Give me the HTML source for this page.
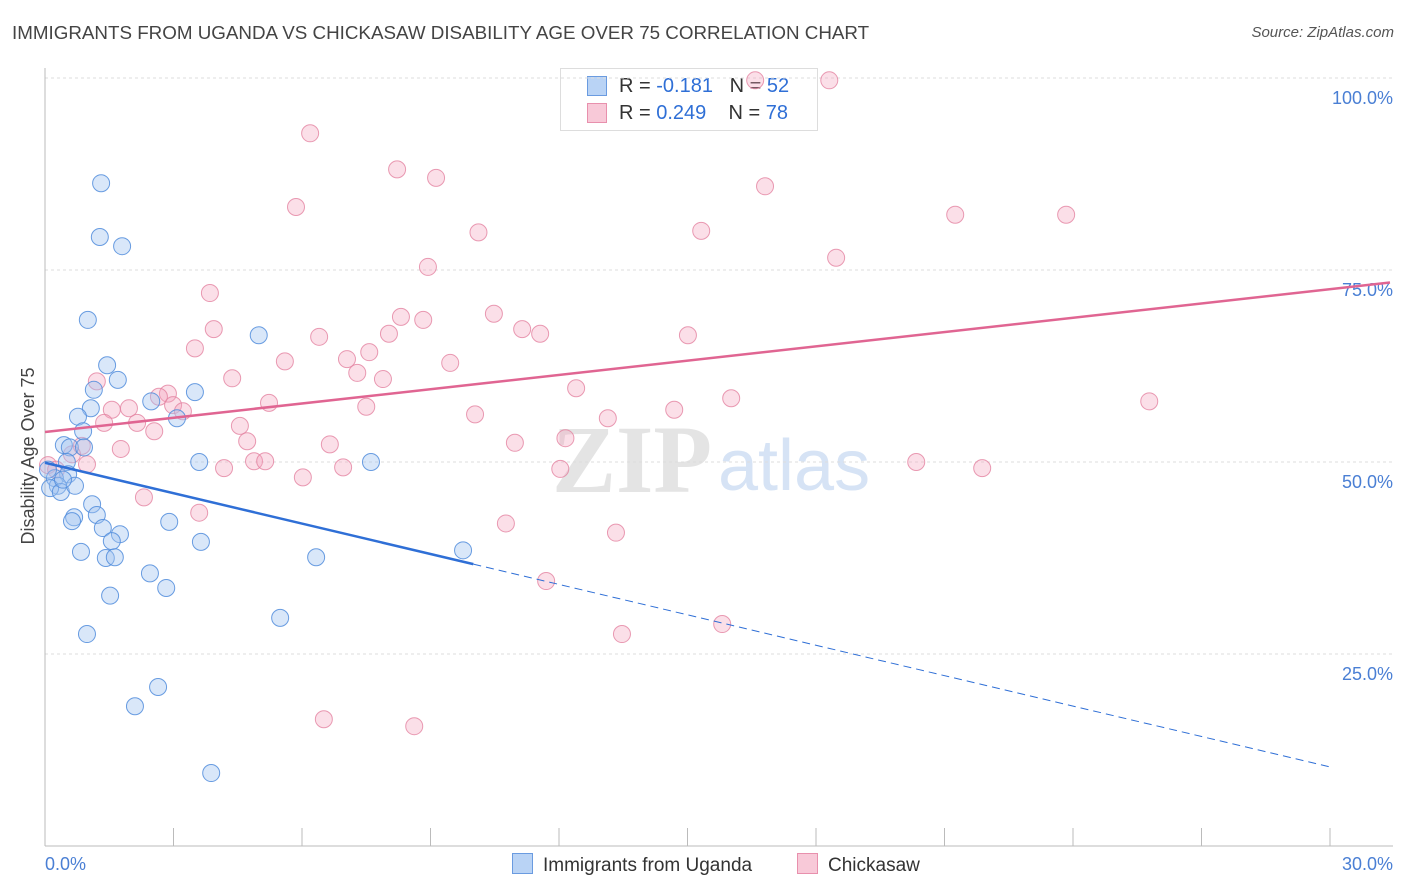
<!DOCTYPE html>
<html><head><meta charset="utf-8"><style>
body{margin:0;background:#fff;font-family:"Liberation Sans",sans-serif;}
#wrap{position:relative;width:1406px;height:892px;overflow:hidden;}
.t{position:absolute;white-space:nowrap;}
</style></head><body>
<div id="wrap">
<div class="t" style="left:12px;top:22px;font-size:18.8px;color:#444;">IMMIGRANTS FROM UGANDA VS CHICKASAW DISABILITY AGE OVER 75 CORRELATION CHART</div>
<div class="t" style="right:12px;top:24px;font-size:15px;color:#555;font-style:italic;">Source: ZipAtlas.com</div>
<div class="t" style="left:560px;top:68px;width:256px;height:61px;border:1px solid #ddd;background:#fff;font-size:20px;color:#333;">
<div style="position:absolute;left:26px;top:7px;width:18px;height:18px;background:#b9d3f5;border:1px solid #6a9be0"></div>
<div style="position:absolute;left:58px;top:6px">R = <span style="color:#2f6fd6">-0.181</span>&nbsp;&nbsp;&nbsp;N = <span style="color:#2f6fd6">52</span></div>
<div style="position:absolute;left:26px;top:34px;width:18px;height:18px;background:#f8c9d8;border:1px solid #e890ad"></div>
<div style="position:absolute;left:58px;top:33px">R = <span style="color:#2f6fd6">0.249</span>&nbsp;&nbsp;&nbsp;&nbsp;N = <span style="color:#2f6fd6">78</span></div>
</div>
<svg id="svg" width="1406" height="892" style="position:absolute;left:0;top:0"></svg>
</div>
<script>
const X0=45,X1=1330,Y0=846,Y100=78;
const xTicks=[0,3,6,9,12,15,18,21,24,27,30];
const yTicks=[25,50,75,100];
const yTickLabels=["25.0%","50.0%","75.0%","100.0%"];
const ugandaX=[1.31,1.28,1.80,1.00,4.99,1.45,1.70,1.14,3.50,2.48,1.07,0.77,3.08,0.89,0.44,0.58,0.91,0.51,3.60,7.61,0.54,0.23,0.30,0.12,0.37,0.70,1.10,1.21,0.68,0.63,2.90,1.35,1.75,1.56,3.64,9.76,0.84,1.42,1.63,6.33,2.45,2.83,1.52,5.49,0.98,2.64,2.10,3.88,0.07,0.42];
const ugandaY=[86.3,79.3,78.1,68.5,66.5,62.6,60.7,59.4,59.1,57.9,57.0,55.9,55.7,54.0,52.2,51.9,51.9,50.0,50.0,50.0,48.4,47.9,46.9,46.6,46.1,46.9,44.5,43.1,42.8,42.3,42.2,41.4,40.6,39.7,39.6,38.5,38.3,37.5,37.6,37.6,35.5,33.6,32.6,29.7,27.6,20.7,18.2,9.5,49.0,47.7];
const chickX=[6.19,8.22,9.13,16.81,5.86,21.25,23.84,10.12,15.32,18.47,8.94,3.85,3.94,10.48,8.31,8.83,11.14,11.56,6.40,8.03,15.01,3.50,7.57,7.05,5.60,9.46,7.29,4.37,7.89,1.21,12.40,2.87,2.66,16.02,25.78,5.23,2.99,7.50,1.96,1.56,3.22,14.69,10.04,13.14,1.38,2.15,4.55,2.55,4.72,6.65,10.97,12.15,1.77,0.86,0.63,4.88,5.14,4.18,6.96,0.98,12.03,20.34,21.88,6.02,2.31,3.60,10.76,13.33,11.70,13.47,15.81,6.51,8.62,16.58,18.31,0.07,0.26];
const chickY=[92.8,88.1,87.0,85.9,83.2,82.2,82.2,79.9,80.1,76.6,75.4,72.0,67.3,69.3,68.9,68.5,67.3,66.7,66.3,66.7,66.5,64.8,64.3,63.4,63.1,62.9,61.6,60.9,60.8,60.5,59.6,58.9,58.5,58.3,57.9,57.7,57.4,57.2,57.0,56.8,56.6,56.8,56.2,55.7,55.1,55.1,54.7,54.0,52.7,52.3,52.5,53.1,51.7,52.1,51.0,50.1,50.1,49.2,49.3,49.7,49.1,50.0,49.2,48.0,45.4,43.4,42.0,40.8,34.5,27.6,28.9,16.5,15.6,99.7,99.7,49.6,49.0];
const ugandaTrend=[49.9,10.3];
const ugandaSolidEnd=10.0;
const chickTrend=[53.9,72.5];
const sx=v=>X0+(X1-X0)*v/30, sy=v=>Y0-(Y0-Y100)*v/100;
const svg=document.getElementById('svg');const NS='http://www.w3.org/2000/svg';
function mk(t,a,p){const e=document.createElementNS(NS,t);for(const k in a)e.setAttribute(k,a[k]);(p||svg).appendChild(e);return e;}
let w=mk('text',{x:552,y:492,'font-size':96,fill:'#e4e4e4','font-family':'Liberation Serif, serif','font-weight':'bold'});w.textContent='ZIP';


let w2=mk('text',{x:718,y:490,'font-size':72,fill:'#d6e3f5','font-family':'Liberation Sans, sans-serif'});w2.textContent='atlas';


yTicks.forEach((v,i)=>{const g=mk('line',{x1:X0,x2:1393,y1:sy(v),y2:sy(v),stroke:'#ddd','stroke-dasharray':'3,3'});


const t=mk('text',{x:1393,y:sy(v)+26,'text-anchor':'end','font-size':18,fill:'#4a7fd4'});t.textContent=yTickLabels[i];

});
mk('line',{x1:X0,x2:X0,y1:68,y2:846,stroke:'#bbb'});
mk('line',{x1:X0,x2:1393,y1:846,y2:846,stroke:'#bbb'});
xTicks.forEach(v=>{const l=mk('line',{x1:sx(v),x2:sx(v),y1:828,y2:846,stroke:'#bbb'});

});
let xl=mk('text',{x:45,y:870,'font-size':18,fill:'#4a7fd4'});xl.textContent='0.0%';


let xr=mk('text',{x:1393,y:870,'font-size':18,fill:'#4a7fd4','text-anchor':'end'});xr.textContent='30.0%';


let yt=mk('text',{x:34,y:456,'font-size':18,fill:'#444','text-anchor':'middle',transform:'rotate(-90 34 456)'});yt.textContent='Disability Age Over 75';


chickX.forEach((x,i)=>{const c=mk('circle',{cx:sx(x),cy:sy(chickY[i]),r:8.5,fill:'rgba(244,164,190,0.35)',stroke:'rgba(228,130,160,0.8)','stroke-width':1});

});
ugandaX.forEach((x,i)=>{const c=mk('circle',{cx:sx(x),cy:sy(ugandaY[i]),r:8.5,fill:'rgba(160,195,240,0.4)',stroke:'rgba(80,140,220,0.85)','stroke-width':1});

});
const uy=x=>ugandaTrend[0]+(ugandaTrend[1]-ugandaTrend[0])*x/30;
let u1=mk('line',{x1:sx(0),y1:sy(uy(0)),x2:sx(ugandaSolidEnd),y2:sy(uy(ugandaSolidEnd)),stroke:'#2f6fd6','stroke-width':2.5});


let u2=mk('line',{x1:sx(ugandaSolidEnd),y1:sy(uy(ugandaSolidEnd)),x2:sx(30),y2:sy(uy(30)),stroke:'#2f6fd6','stroke-width':1,'stroke-dasharray':'8,5'});


const cy=x=>chickTrend[0]+(chickTrend[1]-chickTrend[0])*x/30;
let c1=mk('line',{x1:sx(0),y1:sy(cy(0)),x2:1390,y2:sy(cy(1345/(X1-X0)*30)),stroke:'#e06592','stroke-width':2.5});


</script>
<div class="t" style="left:512px;top:853px;font-size:19px;color:#333;"><span style="display:inline-block;width:19px;height:19px;background:#b9d3f5;border:1px solid #6a9be0;vertical-align:-3px;margin-right:10px"></span>Immigrants from Uganda</div>
<div class="t" style="left:797px;top:853px;font-size:19px;color:#333;"><span style="display:inline-block;width:19px;height:19px;background:#f8c9d8;border:1px solid #e890ad;vertical-align:-3px;margin-right:10px"></span>Chickasaw</div>
</body></html>
